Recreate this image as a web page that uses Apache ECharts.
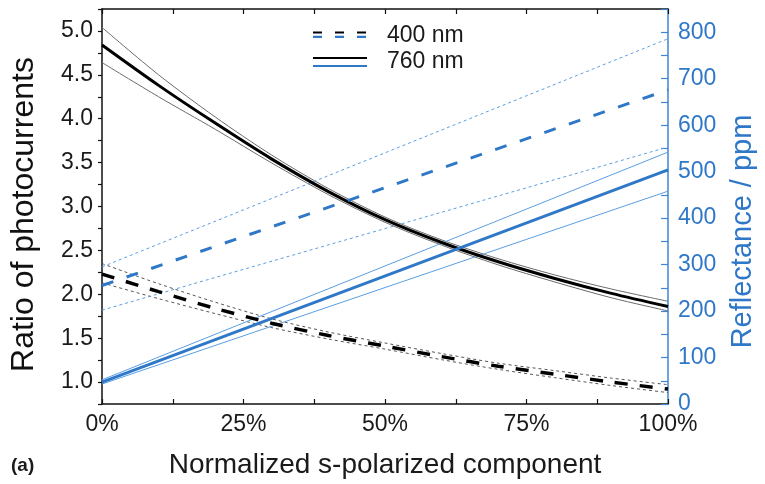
<!DOCTYPE html>
<html><head><meta charset="utf-8">
<script src="https://cdn.jsdelivr.net/npm/echarts@6/dist/echarts.min.js"></script>
<style>html,body{margin:0;padding:0;background:#fff}#c{width:765px;height:484px}</style>
</head><body><div id="c"></div>
<script>
// x positions (% of s-polarized component)
const xPct = [0, 10, 20, 30, 40, 50, 60, 70, 80, 90, 100];
// Ratio of photocurrents, 760 nm (left axis)
const ratio760 = [4.84, 4.38, 3.95, 3.54, 3.17, 2.85, 2.59, 2.37, 2.18, 2.01, 1.86];
const ratio760Up = [5.04, 4.50, 4.02, 3.585, 3.205, 2.88, 2.62, 2.405, 2.22, 2.06, 1.92];
const ratio760Lo = [4.64, 4.25, 3.88, 3.495, 3.135, 2.82, 2.56, 2.335, 2.14, 1.96, 1.81];
// Ratio of photocurrents, 400 nm (left axis)
const ratio400 = [2.23, 2.03, 1.84, 1.67, 1.53, 1.41, 1.29, 1.18, 1.09, 1.00, 0.92];
const ratio400Up = [2.35, 2.12, 1.91, 1.72, 1.57, 1.445, 1.325, 1.215, 1.13, 1.045, 0.97];
const ratio400Lo = [2.13, 1.95, 1.78, 1.62, 1.49, 1.375, 1.255, 1.145, 1.05, 0.96, 0.88];
// Reflectance / ppm (right axis), straight lines at 0% and 100%
const xEnds = [0, 100];
const refl760 = [47, 504];
const refl760Up = [52, 542];
const refl760Lo = [43, 458];
const refl400 = [255, 676];
const refl400Up = [295, 786];
const refl400Lo = [202, 553];
const legendNames = ['400 nm', '760 nm'];

const BLUE = '#2f78c8';
const BLUE_L = '#5a9ee2';
const FONT = 'Liberation Sans, Arial, sans-serif';

function pairs(xs, ys){ return ys.map((v,i)=>[xs[i], v]); }

const chart = echarts.init(document.getElementById('c'), null, {renderer:'canvas'});
const series = [
  {name:'760 up', type:'line', xAxisIndex:0, yAxisIndex:0, data:pairs(xPct, ratio760Up), smooth:0.3, symbol:'none', lineStyle:{color:'#6a6a6a', width:1}, z:3},
  {name:'760 lo', type:'line', xAxisIndex:0, yAxisIndex:0, data:pairs(xPct, ratio760Lo), smooth:0.3, symbol:'none', lineStyle:{color:'#6a6a6a', width:1}, z:3},
  {name:'760 ratio', type:'line', xAxisIndex:0, yAxisIndex:0, data:pairs(xPct, ratio760), smooth:0.3, symbol:'none', lineStyle:{color:'#000', width:3}, z:4},
  {name:'400 up', type:'line', xAxisIndex:0, yAxisIndex:0, data:pairs(xPct, ratio400Up), smooth:0.3, symbol:'none', lineStyle:{color:'#555', width:1, type:[3,3]}, z:3},
  {name:'400 lo', type:'line', xAxisIndex:0, yAxisIndex:0, data:pairs(xPct, ratio400Lo), smooth:0.3, symbol:'none', lineStyle:{color:'#555', width:1, type:[3,3]}, z:3},
  {name:'400 ratio', type:'line', xAxisIndex:0, yAxisIndex:0, data:pairs(xPct, ratio400), smooth:0.3, symbol:'none', lineStyle:{color:'#000', width:3.5, type:[13,12]}, z:4},
  {name:'760 r up', type:'line', xAxisIndex:0, yAxisIndex:1, data:pairs(xEnds, refl760Up), symbol:'none', lineStyle:{color:BLUE_L, width:1}, z:3},
  {name:'760 r lo', type:'line', xAxisIndex:0, yAxisIndex:1, data:pairs(xEnds, refl760Lo), symbol:'none', lineStyle:{color:BLUE_L, width:1}, z:3},
  {name:'760 refl', type:'line', xAxisIndex:0, yAxisIndex:1, data:pairs(xEnds, refl760), symbol:'none', lineStyle:{color:BLUE, width:3}, z:4},
  {name:'400 r up', type:'line', xAxisIndex:0, yAxisIndex:1, data:pairs(xEnds, refl400Up), symbol:'none', lineStyle:{color:BLUE_L, width:1, type:[3,3]}, z:3},
  {name:'400 r lo', type:'line', xAxisIndex:0, yAxisIndex:1, data:pairs(xEnds, refl400Lo), symbol:'none', lineStyle:{color:BLUE_L, width:1, type:[3,3]}, z:3},
  {name:'400 refl', type:'line', xAxisIndex:0, yAxisIndex:1, data:pairs(xEnds, refl400), symbol:'none', lineStyle:{color:BLUE, width:3, type:[12,14]}, z:4}
];

const isMult = (v, m) => Math.abs(v/m - Math.round(v/m)) < 1e-6;

const option = {
  animation:false,
  textStyle:{fontFamily:FONT},
  grid:{left:102, right:97, top:9, bottom:80, containLabel:false},
  xAxis:[
    {type:'value', min:0, max:100, interval:12.5, position:'bottom',
     axisLine:{onZero:false, lineStyle:{color:'#111', width:1.5}},
     axisTick:{inside:true, length:5, lineStyle:{color:'#111', width:1.2}},
     axisLabel:{formatter:v=>isMult(v,25)? Math.round(v)+'%':'', fontSize:23, color:'#1a1a1a', margin:9, fontFamily:FONT},
     splitLine:{show:false},
     name:'Normalized s-polarized component', nameLocation:'middle', nameGap:47,
     nameTextStyle:{fontSize:28, color:'#1a1a1a', fontFamily:FONT}},
    {type:'value', min:0, max:100, interval:12.5, position:'top',
     axisLine:{onZero:false, lineStyle:{color:'#111', width:1.5}},
     axisTick:{inside:true, length:5, lineStyle:{color:'#111', width:1.2}},
     axisLabel:{show:false}, splitLine:{show:false}}
  ],
  yAxis:[
    {type:'value', min:0.75, max:5.25, interval:0.25, position:'left',
     axisLine:{show:true, onZero:false, lineStyle:{color:'#111', width:1.5}},
     axisTick:{show:true, inside:false, length:4, lineStyle:{color:'#111', width:1.2}},
     axisLabel:{formatter:v=>isMult(v,0.5)? v.toFixed(1):'', fontSize:23, color:'#1a1a1a', margin:9, fontFamily:FONT},
     splitLine:{show:false},
     name:'Ratio of photocurrents', nameLocation:'middle', nameGap:62, nameRotate:90,
     nameTextStyle:{fontSize:32, color:'#111', fontFamily:FONT, padding:[0,16,0,0]}},
    {type:'value', min:0, max:850, interval:50, position:'right',
     axisLine:{show:true, onZero:false, lineStyle:{color:'#3d86d4', width:1.5}},
     axisTick:{show:true, inside:true, length:7, lineStyle:{color:'#3d86d4', width:1.2}},
     axisLabel:{formatter:v=>(isMult(v,100) && v<=800)? String(v):'', fontSize:23, color:'#2f78c8', margin:10, fontFamily:FONT},
     splitLine:{show:false},
     name:'Reflectance / ppm', nameLocation:'middle', nameGap:60, nameRotate:90,
     nameTextStyle:{fontSize:29, color:'#2f78c8', fontFamily:FONT, padding:[0,50,0,0]}}
  ],
  series:series,
  graphic:[
    {type:'line', shape:{x1:313, y1:32.5, x2:367, y2:32.5}, style:{stroke:'#000', lineWidth:2.2, lineDash:[9,13]}},
    {type:'line', shape:{x1:313, y1:36.8, x2:367, y2:36.8}, style:{stroke:BLUE, lineWidth:2.2, lineDash:[9,13]}},
    {type:'text', left:387, top:24, style:{text:legendNames[0], fontSize:23, fill:'#1a1a1a', fontFamily:FONT}},
    {type:'line', shape:{x1:313, y1:58, x2:367, y2:58}, style:{stroke:'#000', lineWidth:2.2}},
    {type:'line', shape:{x1:313, y1:66, x2:367, y2:66}, style:{stroke:BLUE, lineWidth:2.2}},
    {type:'text', left:387, top:50, style:{text:legendNames[1], fontSize:23, fill:'#1a1a1a', fontFamily:FONT}},
    {type:'text', left:11, top:456, style:{text:'(a)', fontSize:19, fontWeight:'bold', fill:'#1a1a1a', fontFamily:FONT}}
  ]
};
chart.setOption(option);
</script></body></html>
